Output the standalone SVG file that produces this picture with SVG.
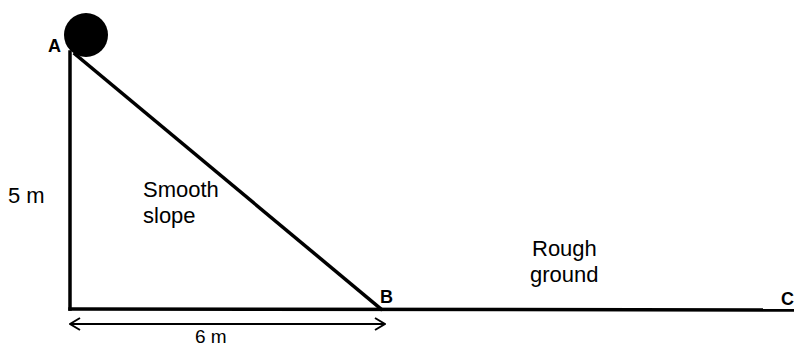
<svg xmlns="http://www.w3.org/2000/svg" width="794" height="347" viewBox="0 0 794 347">
<style>
.ln{stroke:#000;stroke-width:3.5;fill:none;stroke-linecap:square}
.dim{stroke:#000;stroke-width:2;fill:none}
.lbl{font-family:"Liberation Sans",Arial,sans-serif;fill:#000}
.pt{font-weight:bold;font-size:18px}
.tx{font-size:22px}
</style>
<defs>
<marker id="ah" viewBox="0 0 12 14" refX="11" refY="7" markerWidth="12" markerHeight="14" markerUnits="userSpaceOnUse" orient="auto-start-reverse">
<path d="M1,1 L11,7 L1,13" fill="none" stroke="#000" stroke-width="2"/>
</marker>
</defs>
<rect width="794" height="347" fill="#fff"/>
<g id="connectors">
<line class="ln" x1="70" y1="52" x2="70" y2="309"/>
<line class="ln" x1="70" y1="309" x2="794" y2="310"/>
<line class="ln" x1="75" y1="54" x2="381" y2="309"/>
<line class="dim" x1="70" y1="324" x2="385" y2="324" marker-start="url(#ah)" marker-end="url(#ah)"/>
</g>
<g id="ball"><circle cx="86" cy="35" r="22" fill="#000"/></g>
<g id="A"><text class="lbl pt" x="48" y="52">A</text></g>
<g id="B"><text class="lbl pt" x="380" y="303">B</text></g>
<g id="C"><text class="lbl pt" x="781" y="305">C</text></g>
<g id="height"><text class="lbl tx" x="8" y="203">5 m</text></g>
<g id="width"><text class="lbl" style="font-size:19px" x="195" y="343">6 m</text></g>
<g id="slope"><text class="lbl tx" x="143" y="197">Smooth</text><text class="lbl tx" x="143" y="223">slope</text></g>
<g id="ground"><text class="lbl tx" x="532" y="256">Rough</text><text class="lbl tx" x="530" y="282">ground</text></g>
</svg>
